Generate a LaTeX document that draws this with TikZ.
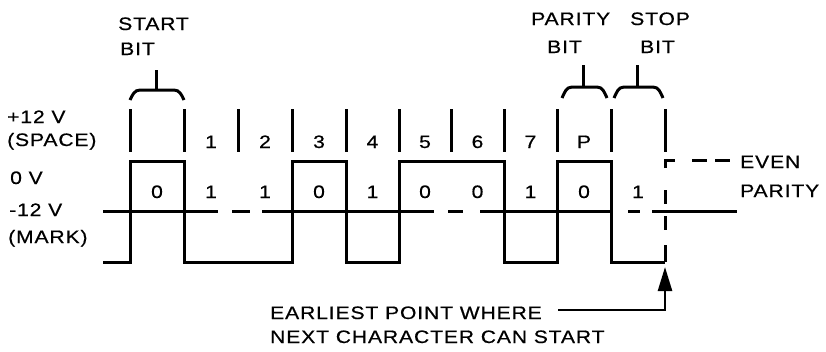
\documentclass[tikz,border=0pt]{standalone}
\usepackage{fontspec}
\setmainfont{Liberation Sans}[FakeStretch=1.17,LetterSpace=5,FakeBold=0.6]
\usetikzlibrary{arrows.meta}
\begin{document}
\begin{tikzpicture}[x=1pt,y=-1pt,
  wave/.style={line width=3pt},
  ticky/.style={line width=3pt},
  axisline/.style={line width=3pt},
  bracey/.style={line width=3pt},
  lbl/.style={anchor=base west, inner sep=0pt, font=\fontsize{18}{20}\selectfont},
  num/.style={anchor=base, inner sep=0pt, font=\fontsize{18}{20}\selectfont},
  arr/.style={line width=2.5pt, -{Triangle[length=24pt,width=14pt]}}]
\useasboundingbox (0,0) rectangle (826,351);

% top labels
\node[lbl] (start) at (118,30) {START};
\node[lbl] (startbit) at (120,55) {BIT};
\node[lbl] (parity) at (531,25) {PARITY};
\node[lbl] (paritybit) at (547,53) {BIT};
\node[lbl] (stop) at (630,25) {STOP};
\node[lbl] (stopbit) at (640,53) {BIT};

% braces
\draw[bracey] (130,100) to[out=65,in=180] (140,90) -- (174,90) to[out=0,in=115] (184,100);
\draw[bracey] (156,90) -- (156,70);
\draw[bracey] (562,98) to[out=65,in=180] (572,87) -- (597,87) to[out=0,in=115] (607,98);
\draw[bracey] (583,87) -- (583,65);
\draw[bracey] (614,98) to[out=65,in=180] (624,87) -- (653,87) to[out=0,in=115] (663,98);
\draw[bracey] (637,87) -- (637,65);

% level labels
\node[lbl] (p12) at (7,123) {+12 V};
\node[lbl] (space) at (7,146) {(SPACE)};
\node[lbl] (zero) at (10,184) {0 V};
\node[lbl] (m12) at (9,216) {-12 V};
\node[lbl] (mark) at (8,243) {(MARK)};

% ticks
\foreach \x in {130,184,238,292,346,399,451,504,557,611,665}
  \draw[ticky] (\x,109) -- (\x,152);

% bit numbers
\foreach \x/\t [count=\i] in {211/1,265/2,319/3,372.5/4,425/5,477.5/6,530.5/7,584/P}
  \node[num] (bn\i) at (\x,148) {\t};

% bit values
\foreach \x/\t [count=\i] in {157/0,211/1,265/1,319/0,372.5/1,425/0,477.5/0,530.5/1,584/0,638/1}
  \node[num] (bv\i) at (\x,198) {\t};

% middle line
\draw[axisline] (103,211) -- (218,211);
\draw[axisline] (232,211) -- (250,211);
\draw[axisline] (262,211) -- (434,211);
\draw[axisline] (448,211) -- (463,211);
\draw[axisline] (480,211) -- (613,211);
\draw[axisline] (628,211) -- (640,211);
\draw[axisline] (652,211) -- (737,211);

% waveform
\draw[wave] (103,262) -- (130,262) -- (130,161) -- (184,161) -- (184,262)
  -- (292,262) -- (292,161) -- (346,161) -- (346,262) -- (399,262)
  -- (399,161) -- (504,161) -- (504,262) -- (557,262) -- (557,161)
  -- (611,161) -- (611,262) -- (665,262);

% even parity dashed alternative
\draw[wave] (665,168) -- (665,160) -- (675,160);
\draw[wave] (692,160) -- (707,160);
\draw[wave] (715,160) -- (730,160);
\draw[wave] (665,190) -- (665,204);
\draw[wave] (665,216) -- (665,230);
\draw[wave] (665,245) -- (665,262);

\node[lbl] (even) at (740,168) {EVEN};
\node[lbl] (evenpar) at (740,197) {PARITY};

% bottom note
\node[lbl] (earl) at (270,319) {EARLIEST POINT WHERE};
\node[lbl] (next) at (270,343) {NEXT CHARACTER CAN START};
\coordinate (a0) at (558,310);
\coordinate (a1) at (665,310);
\coordinate (tip) at (665,267);
\draw[arr] (a0) -- (a1) -- (tip);
\end{tikzpicture}
\end{document}
